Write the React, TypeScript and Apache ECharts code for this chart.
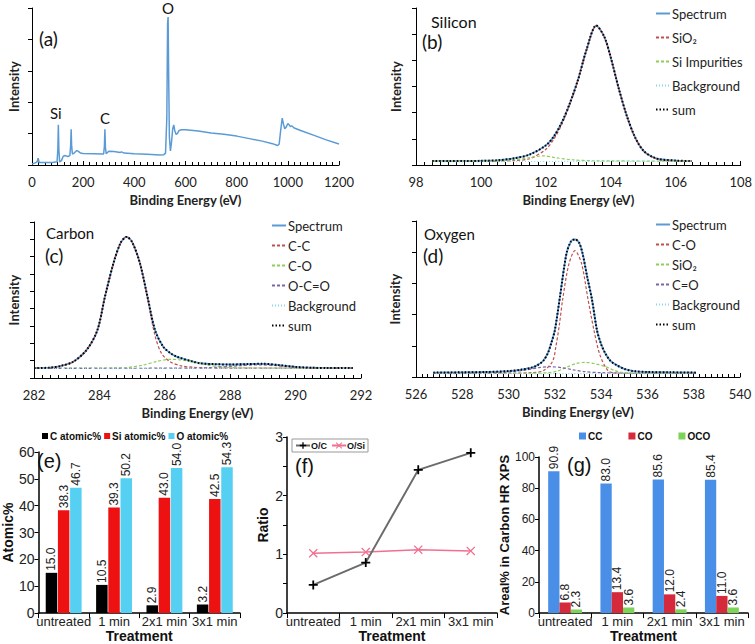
import React, { useEffect, useRef } from "react";
import * as echarts from "echarts";

const SPEC_FONT = "Lato, 'Open Sans', sans-serif";
const BAR_FONT = "'Liberation Sans', Arial, sans-serif";

// (a) survey spectrum [binding energy eV, intensity]
const surveySpectrum: number[][] = [
  [0, 0.03], [10, 0.06], [20, 0.1], [24, 0.22], [28, 0.08], [40, 0.08], [60, 0.08], [80, 0.08],
  [98, 0.1], [101, 0.5], [103, 1.28], [105, 0.5], [108, 0.1], [115, 0.14], [122, 0.28], [130, 0.3],
  [140, 0.27], [148, 0.3], [151, 0.6], [153, 1.14], [155, 0.6], [158, 0.35], [165, 0.38], [175, 0.46],
  [180, 0.44], [190, 0.38], [200, 0.37], [240, 0.36], [280, 0.35], [283, 0.6], [285, 1.14], [287, 0.55],
  [290, 0.36], [300, 0.44], [320, 0.43], [345, 0.4], [350, 0.42], [360, 0.38], [400, 0.36], [450, 0.34],
  [500, 0.32], [515, 0.33], [522, 0.38], [527, 1.5], [530, 4.5], [532, 4.71], [534, 3.0], [537, 0.9],
  [541, 0.45], [545, 0.7], [550, 1.15], [554, 1.28], [558, 1.1], [563, 0.98], [568, 1.0], [575, 1.1],
  [585, 1.12], [600, 1.12], [650, 1.08], [700, 1.02], [750, 0.98], [800, 0.92], [850, 0.84], [900, 0.76],
  [940, 0.68], [960, 0.62], [966, 0.66], [972, 1.1], [978, 1.49], [983, 1.3], [988, 1.15], [993, 1.2],
  [1000, 1.32], [1005, 1.28], [1010, 1.22], [1015, 1.25], [1025, 1.18], [1050, 1.1], [1100, 0.95],
  [1150, 0.8], [1200, 0.67],
];

// (b) Silicon
const siSpectrum: number[][] = [
  [98.5, 0.15], [99, 0.15], [99.5, 0.15], [100, 0.16], [100.5, 0.18], [101, 0.25], [101.5, 0.4],
  [102, 0.75], [102.25, 1.1], [102.5, 1.65], [102.75, 2.4], [103, 3.3], [103.25, 4.4], [103.55, 5.33],
  [103.8, 4.9], [104, 4.1], [104.25, 2.9], [104.5, 1.85], [104.75, 1.05], [105, 0.55], [105.25, 0.33],
  [105.5, 0.22], [106, 0.17], [106.5, 0.15],
];
const siSiO2: number[][] = [
  [98.5, 0.14], [99.5, 0.14], [100.5, 0.15], [101, 0.17], [101.5, 0.24], [102, 0.6], [102.25, 1.0],
  [102.5, 1.58], [102.75, 2.35], [103, 3.28], [103.25, 4.38], [103.55, 5.33], [103.8, 4.9], [104, 4.1],
  [104.25, 2.9], [104.5, 1.85], [104.75, 1.05], [105, 0.55], [105.25, 0.32], [105.5, 0.2], [106, 0.15],
  [106.5, 0.14],
];
const siImpurities: number[][] = [
  [98.5, 0.15], [100, 0.15], [101, 0.2], [101.5, 0.28], [101.9, 0.35], [102.3, 0.28], [102.8, 0.2],
  [103.5, 0.16], [106.5, 0.15],
];
const siBackground: number[][] = [[98.5, 0.13], [106.5, 0.14]];
const siSum: number[][] = siSpectrum;

// (c) Carbon
const cSpectrum: number[][] = [
  [282, 0.57], [282.5, 0.6], [282.8, 0.69], [283.2, 0.94], [283.61, 1.62], [283.94, 2.77], [284.17, 4.69],
  [284.43, 6.62], [284.65, 7.8], [284.83, 8.14], [285.0, 7.85], [285.24, 6.62], [285.47, 4.69],
  [285.7, 2.77], [285.95, 1.81], [286.16, 1.45], [286.36, 1.23], [286.87, 0.94], [287.08, 0.85],
  [287.5, 0.8], [288, 0.78], [288.5, 0.8], [289, 0.82], [289.5, 0.74], [290, 0.64], [290.5, 0.59],
  [291, 0.57], [291.75, 0.57],
];
const cCC: number[][] = [
  [282, 0.57], [282.5, 0.6], [282.8, 0.69], [283.2, 0.94], [283.61, 1.62], [283.94, 2.77], [284.17, 4.69],
  [284.43, 6.62], [284.65, 7.8], [284.83, 8.14], [285.0, 7.85], [285.24, 6.6], [285.47, 4.6],
  [285.7, 2.45], [285.9, 1.42], [286.16, 0.94], [286.5, 0.7], [286.87, 0.62], [287.3, 0.58], [288, 0.57],
  [291.75, 0.57],
];
const cCO: number[][] = [
  [282, 0.57], [284.5, 0.58], [284.83, 0.6], [285.34, 0.75], [285.75, 0.95], [286.16, 1.08], [286.5, 1.04],
  [286.87, 0.92], [287.3, 0.75], [287.8, 0.63], [288.4, 0.58], [291.75, 0.57],
];
const cOCO: number[][] = [
  [282, 0.56], [287, 0.57], [287.6, 0.62], [288.2, 0.7], [288.9, 0.76], [289.5, 0.7], [290, 0.62],
  [290.5, 0.58], [291.75, 0.56],
];
const cBackground: number[][] = [[282, 0.55], [291.75, 0.56]];
const cSum: number[][] = cSpectrum;

// (d) Oxygen
const oSpectrum: number[][] = [
  [526.75, 0.14], [528, 0.15], [529, 0.16], [530, 0.19], [530.5, 0.23], [531, 0.3], [531.25, 0.38],
  [531.5, 0.52], [531.7, 0.77], [531.85, 1.1], [532.0, 1.5], [532.22, 2.57], [532.5, 3.95], [532.7, 4.35],
  [532.87, 4.41], [533.05, 4.3], [533.2, 3.95], [533.4, 3.2], [533.6, 2.5], [533.82, 1.5], [534.0, 1.05],
  [534.17, 0.77], [534.4, 0.52], [534.67, 0.38], [535, 0.26], [535.4, 0.19], [536, 0.16], [537, 0.15],
  [538.1, 0.14],
];
const oCO: number[][] = [
  [526.75, 0.12], [530, 0.12], [531, 0.14], [531.5, 0.2], [531.9, 0.5], [532.05, 1.0], [532.2, 1.7],
  [532.34, 2.5], [532.6, 3.6], [532.87, 4.05], [533.15, 3.65], [533.43, 2.5], [533.69, 1.5], [533.95, 0.7],
  [534.3, 0.2], [534.6, 0.13], [535, 0.12], [538.1, 0.12],
];
const oSiO2: number[][] = [
  [526.75, 0.12], [531, 0.12], [531.7, 0.14], [532.07, 0.18], [532.5, 0.31], [532.9, 0.43], [533.3, 0.47],
  [533.75, 0.42], [534.2, 0.33], [534.6, 0.2], [535, 0.14], [535.5, 0.12], [538.1, 0.12],
];
const oCdO: number[][] = [
  [526.75, 0.12], [529, 0.13], [530, 0.16], [530.8, 0.23], [531.3, 0.3], [531.8, 0.33], [532.3, 0.3],
  [532.8, 0.23], [533.3, 0.17], [534, 0.14], [535, 0.12], [538.1, 0.12],
];
const oBackground: number[][] = [[526.75, 0.11], [538.1, 0.11]];
const oSum: number[][] = oSpectrum;

// (e)(f)(g)
const treatments = ["untreated", "1 min", "2x1 min", "3x1 min"];
const cAtomic = [15.0, 10.5, 2.9, 3.2];
const siAtomic = [38.3, 39.3, 43.0, 42.5];
const oAtomic = [46.7, 50.2, 54.0, 54.3];
const ratioOC = [0.48, 0.86, 2.44, 2.73];
const ratioOSi = [1.02, 1.04, 1.08, 1.06];
const arealCC = [90.9, 83.0, 85.6, 85.4];
const arealCO = [6.8, 13.4, 12.0, 11.0];
const arealOCO = [2.3, 3.6, 2.4, 3.6];

const PLUS = "path://M4,0 L6,0 L6,4 L10,4 L10,6 L6,6 L6,10 L4,10 L4,6 L0,6 L0,4 L4,4 Z";
const CROSS = "path://M1,0 L5,4 L9,0 L10,1 L6,5 L10,9 L9,10 L5,6 L1,10 L0,9 L4,5 L0,1 Z";

const C_SPEC = "#5b9bd5";
const C_RED = "#c0504d";
const C_GREEN = "#8fce5a";
const C_PURPLE = "#8064a2";
const C_BG = "#8ad8ea";

function specX(gi: number, min: number, max: number, interval: number) {
  return {
    type: "value", gridIndex: gi, min, max, interval,
    name: "Binding Energy (eV)", nameLocation: "middle", nameGap: 28,
    nameTextStyle: { fontFamily: SPEC_FONT, fontWeight: "bold", fontSize: 13, color: "#222" },
    axisLine: { show: true, onZero: false, lineStyle: { color: "#000", width: 1 } },
    axisTick: { show: true, inside: true, length: 4, lineStyle: { color: "#000" } },
    minorTick: { show: true, splitNumber: 8, length: 3, lineStyle: { color: "#000" } },
    axisLabel: { fontFamily: SPEC_FONT, fontSize: 13, color: "#222", margin: 10, formatter: (v: number) => String(v) },
    splitLine: { show: false }, minorSplitLine: { show: false },
  };
}
function specY(gi: number, max: number, nameGap: number) {
  return {
    type: "value", gridIndex: gi, min: 0, max, interval: 1,
    name: "Intensity", nameLocation: "middle", nameGap,
    nameTextStyle: { fontFamily: SPEC_FONT, fontWeight: "bold", fontSize: 13, color: "#222" },
    axisLine: { show: true, onZero: false, lineStyle: { color: "#000", width: 1 } },
    axisTick: { show: true, inside: false, length: 4, lineStyle: { color: "#000" } },
    axisLabel: { show: false }, splitLine: { show: false },
  };
}
function catX(gi: number) {
  return {
    type: "category", gridIndex: gi, data: treatments,
    name: "Treatment", nameLocation: "middle", nameGap: 11,
    nameTextStyle: { fontFamily: BAR_FONT, fontWeight: "bold", fontSize: 14, color: "#111" },
    axisLine: { lineStyle: { color: "#000", width: 1.5 } },
    axisTick: { show: true, alignWithLabel: false, length: 5, lineStyle: { color: "#000" } },
    axisLabel: { fontFamily: BAR_FONT, fontSize: 13, color: "#222", margin: 2, interval: 0 },
    splitLine: { show: false },
  };
}
function valY(gi: number, max: number, interval: number, name: string, nameGap: number, fontSize: number, nameSize: number, fmt?: (v: number) => string) {
  return {
    type: "value", gridIndex: gi, min: 0, max, interval,
    name, nameLocation: "middle", nameGap,
    nameTextStyle: { fontFamily: BAR_FONT, fontWeight: "bold", fontSize: nameSize, color: "#111" },
    axisLine: { show: true, lineStyle: { color: "#000", width: 1.5 } },
    axisTick: { show: true, length: 4, lineStyle: { color: "#000" } },
    axisLabel: { fontFamily: BAR_FONT, fontSize, color: "#222", margin: 4, formatter: fmt },
    splitLine: { show: false },
  };
}

function spec(name: string, data: number[][], ai: number, color: string, type: any, width: number, z: number) {
  return {
    type: "line", name, data, xAxisIndex: ai, yAxisIndex: ai, smooth: ai === 0 ? false : 0.3,
    symbol: "none", showSymbol: false, z,
    lineStyle: { color, type, width }, itemStyle: { color },
  };
}

function barLabel(fontSize: number) {
  return {
    show: true, position: "top", rotate: 90, align: "left", verticalAlign: "middle", distance: 2,
    fontFamily: BAR_FONT, fontSize, color: "#222",
    formatter: (p: any) => Number(p.value).toFixed(1),
  };
}
function bar(name: string, data: number[], ai: number, color: string, barWidth: number, barGap: string, fs: number) {
  return {
    type: "bar", name, data, xAxisIndex: ai, yAxisIndex: ai, barWidth, barGap,
    itemStyle: { color }, label: barLabel(fs),
  };
}

function specLegend(left: number, top: number, names: string[], itemGap: number) {
  return {
    left, top, orient: "vertical", data: names, itemGap, itemWidth: 14, itemHeight: 10, padding: 0,
    selectedMode: false, formatter: (n: string) => n.split("|")[1],
    itemStyle: { opacity: 0 },
    textStyle: { fontFamily: SPEC_FONT, fontSize: 13, color: "#222", padding: [0, 0, 0, -3] },
  };
}

function txt(text: string, x: number, y: number, size: number, font = SPEC_FONT) {
  return { type: "text", x, y, style: { text, font: `${size}px ${font}`, fill: "#111", verticalAlign: "top" }, z: 10 };
}

function buildOption(): any {
  const dashed = [3, 2];
  const dotted = [1, 2];
  const sumDot = [1.5, 2];
  return {
    animation: false,
    backgroundColor: "#fff",
    grid: [
      { left: 32, top: 8, width: 307, height: 157 },
      { left: 416, top: 8, width: 326, height: 157 },
      { left: 34, top: 222, width: 327, height: 156 },
      { left: 416, top: 221, width: 324, height: 156 },
      { left: 31, top: 452, width: 209, height: 166 },
      { left: 287, top: 437, width: 210, height: 178 },
      { left: 539, top: 457, width: 209, height: 158 },
    ],
    xAxis: [
      specX(0, 0, 1200, 200),
      specX(1, 98, 108, 2),
      specX(2, 282, 292, 2),
      specX(3, 526, 540, 2),
      catX(4), catX(5), catX(6),
    ],
    yAxis: [
      specY(0, 5, 12),
      specY(1, 6, 14),
      specY(2, 9, 14),
      specY(3, 5, 15),
      valY(4, 60, 10, "Atomic%", 18, 14, 14),
      valY(5, 3, 0.5, "Ratio", 17, 14, 14, (v: number) => (Number.isInteger(v) ? String(v) : "")),
      valY(6, 100, 20, "Areal% in Carbon HR XPS", 26, 12, 13),
    ],
    legend: [
      specLegend(655, 7, ["b|Spectrum", "b|SiO₂", "b|Si Impurities", "b|Background", "b|sum"], 11),
      specLegend(271, 219, ["c|Spectrum", "c|C-C", "c|C-O", "c|O-C=O", "c|Background", "c|sum"], 7),
      specLegend(655, 218, ["d|Spectrum", "d|C-O", "d|SiO₂", "d|C=O", "d|Background", "d|sum"], 7),
      {
        left: 42, top: 431, data: ["C atomic%", "Si atomic%", "O atomic%"], icon: "rect",
        itemWidth: 6, itemHeight: 6, itemGap: 3, padding: 0, selectedMode: false,
        textStyle: { fontFamily: BAR_FONT, fontSize: 10, fontWeight: "bold", color: "#111", padding: [0, 0, 0, -3] },
      },
      {
        left: 292, top: 439, data: ["O/C", "O/Si"], itemWidth: 14, itemHeight: 8, itemGap: 4,
        padding: [2, 3, 2, 3], borderColor: "#999", borderWidth: 1, selectedMode: false,
        textStyle: { fontFamily: BAR_FONT, fontSize: 9, fontWeight: "bold", color: "#111", padding: [0, 0, 0, -4] },
      },
      {
        left: 579, top: 431, data: ["CC", "CO", "OCO"], icon: "rect", itemWidth: 7, itemHeight: 7,
        itemGap: 26, padding: 0, selectedMode: false,
        textStyle: { fontFamily: BAR_FONT, fontSize: 10, fontWeight: "bold", color: "#111", padding: [0, 0, 0, -3] },
      },
    ],
    series: [
      spec("a|Survey", surveySpectrum, 0, C_SPEC, "solid", 1.5, 2),

      spec("b|Spectrum", siSpectrum, 1, C_SPEC, "solid", 1.8, 2),
      spec("b|SiO₂", siSiO2, 1, C_RED, dashed, 1.2, 3),
      spec("b|Si Impurities", siImpurities, 1, C_GREEN, dashed, 1.2, 3),
      spec("b|Background", siBackground, 1, C_BG, dotted, 1.2, 3),
      spec("b|sum", siSum, 1, "#000", sumDot, 2, 4),

      spec("c|Spectrum", cSpectrum, 2, C_SPEC, "solid", 1.8, 2),
      spec("c|C-C", cCC, 2, C_RED, dashed, 1.2, 3),
      spec("c|C-O", cCO, 2, C_GREEN, dashed, 1.2, 3),
      spec("c|O-C=O", cOCO, 2, C_PURPLE, dashed, 1.2, 3),
      spec("c|Background", cBackground, 2, C_BG, dotted, 1.2, 3),
      spec("c|sum", cSum, 2, "#000", sumDot, 2, 4),

      spec("d|Spectrum", oSpectrum, 3, C_SPEC, "solid", 1.8, 2),
      spec("d|C-O", oCO, 3, C_RED, dashed, 1.2, 3),
      spec("d|SiO₂", oSiO2, 3, C_GREEN, dashed, 1.2, 3),
      spec("d|C=O", oCdO, 3, C_PURPLE, dashed, 1.2, 3),
      spec("d|Background", oBackground, 3, C_BG, dotted, 1.2, 3),
      spec("d|sum", oSum, 3, "#000", sumDot, 2, 4),

      bar("C atomic%", cAtomic, 4, "#000000", 11.5, "6%", 12),
      bar("Si atomic%", siAtomic, 4, "#ee1111", 11.5, "6%", 12),
      bar("O atomic%", oAtomic, 4, "#55d0f2", 11.5, "6%", 12),

      {
        type: "line", name: "O/C", data: ratioOC, xAxisIndex: 5, yAxisIndex: 5,
        symbol: PLUS, symbolSize: 9, lineStyle: { color: "#6b6b6b", width: 2 }, itemStyle: { color: "#000" }, z: 3,
      },
      {
        type: "line", name: "O/Si", data: ratioOSi, xAxisIndex: 5, yAxisIndex: 5,
        symbol: CROSS, symbolSize: 9, lineStyle: { color: "#f07090", width: 1.5 }, itemStyle: { color: "#f07090" }, z: 2,
      },

      bar("CC", arealCC, 6, "#4a8fe7", 11.3, "0%", 12),
      bar("CO", arealCO, 6, "#d42a3c", 11.3, "0%", 12),
      bar("OCO", arealOCO, 6, "#7dd35a", 11.3, "0%", 12),
    ],
    graphic: [
      txt("(a)", 39, 29, 19),
      txt("Si", 50, 105, 15),
      txt("C", 100, 110, 15),
      txt("O", 162, 0, 15),
      txt("Silicon", 431, 13, 16),
      txt("(b)", 422, 32, 19),
      txt("Carbon", 46, 225, 15),
      txt("(c)", 45, 246, 19),
      txt("Oxygen", 424, 226, 15),
      txt("(d)", 423, 246, 19),
      txt("(e)", 37, 451, 20, BAR_FONT),
      txt("(f)", 295, 456, 20, BAR_FONT),
      txt("(g)", 567, 455, 20, BAR_FONT),
    ],
  };
}

export default function App() {
  const ref = useRef<HTMLDivElement>(null);
  useEffect(() => {
    const chart = echarts.init(ref.current!, null, { renderer: "svg" });
    chart.setOption(buildOption());
    return () => chart.dispose();
  }, []);
  return (
    <div
      ref={ref}
      style={{ position: "fixed", left: 0, top: 0, width: 755, height: 644, background: "#fff" }}
    />
  );
}
